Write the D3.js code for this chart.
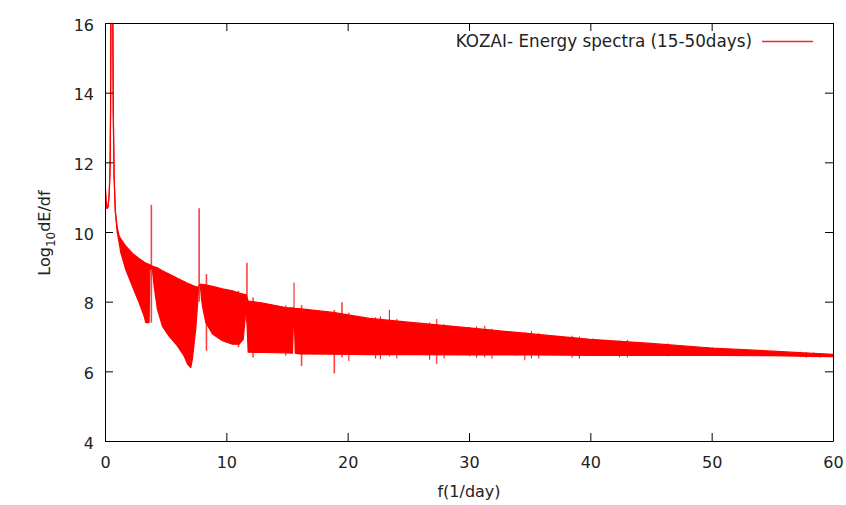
<!DOCTYPE html>
<html>
<head>
<meta charset="utf-8">
<script src="https://cdn.jsdelivr.net/npm/d3@7"></script>
<style>
  body { margin: 0; background: #fff; }
  text { font-family: "DejaVu Sans", sans-serif; fill: #222; }
</style>
</head>
<body>
<svg id="chart" width="846" height="505"></svg>
<script>
// spectrum envelope (f in 1/day, log10 dE/df)
var freq = [0, 0.08, 0.15, 0.25, 0.35, 0.42, 0.46, 0.49, 0.64, 0.68, 0.75, 0.85,
    1.0, 1.16, 1.3, 1.7, 2.25, 2.8, 3.22, 3.36, 3.63, 3.70, 3.88, 4.05, 4.32,
    4.73, 5.28, 5.97, 6.52, 6.8, 7.07, 7.2, 7.48, 7.62, 7.70, 7.85, 7.95, 8.03,
    8.31, 8.86, 9.68, 10.5, 11.06, 11.39, 11.55, 11.62, 11.8, 13, 14.9, 15.45,
    15.52, 15.62, 15.68, 16, 18.8, 21.8, 25, 30, 35, 40, 45, 50, 55, 58, 60];

var upper = [11.5, 10.9, 10.68, 10.72, 11.1, 11.9, 13.5, 16.5, 16.5, 13.5, 11.6, 10.6,
    10.15, 9.89, 9.8, 9.6, 9.39, 9.24, 9.14, 9.11, 9.07, 9.06, 9.02, 9.0, 8.97,
    8.89, 8.79, 8.67, 8.58, 8.53, 8.49, 8.47, 8.43, 8.42, 8.42, 8.50, 8.50, 8.50,
    8.48, 8.44, 8.37, 8.31, 8.25, 8.22, 8.21, 8.20, 8.02, 7.96, 7.83, 7.82,
    7.82, 7.81, 7.80, 7.80, 7.69, 7.52, 7.41, 7.25, 7.08, 6.92, 6.80, 6.67, 6.58, 6.52, 6.49];

var lower = [11.5, 10.9, 10.68, 10.72, 11.1, 11.9, 13.5, 16.5, 16.5, 13.5, 11.6, 10.6,
    10.0, 9.7, 9.41, 8.93, 8.45, 7.98, 7.59, 7.40, 7.40, 8.9, 9.02, 8.44, 7.78,
    7.30, 7.01, 6.73, 6.44, 6.21, 6.11, 6.35, 7.21, 7.88, 8.42, 8.50, 8.1, 7.88,
    7.40, 7.07, 6.88, 6.78, 6.78, 6.92, 7.5, 8.1, 6.55, 6.54, 6.53, 6.52,
    7.25, 7.3, 6.52, 6.5, 6.49, 6.48, 6.48, 6.47, 6.47, 6.46, 6.46, 6.46, 6.45, 6.43, 6.42];

// narrow peaks sticking out of the band
var spikeF  = [3.82, 7.76, 8.36, 11.0, 11.7, 12.2, 14.9, 15.58, 16.2, 18.9, 19.53, 20.1,
    22.3, 22.7, 23.44, 24.05, 26.75, 27.34, 27.95, 30.05, 30.62, 31.3, 31.9, 33.9,
    34.6, 35.15, 35.75, 38.5, 39.1, 40.2, 42.4, 43.05, 46.4, 50.1, 54.1, 57.3, 57.8, 58.4, 58.9];
var spikeHi = [10.78, 10.68, 8.79, 8.31, 9.12, 8.12, 7.90, 8.55, 7.9, 7.76, 7.98, 7.69,
    7.55, 7.58, 7.77, 7.50, 7.40, 7.50, 7.35, 7.27, 7.29, 7.31, 7.22, 7.13,
    7.13, 7.16, 7.09, 7.02, 7.00, 6.94, 6.88, 6.90, 6.80, 6.69, 6.59, 6.56, 6.55, 6.54, 6.52];
var spikeLo = [7.40, 8.0, 6.59, 6.69, 7.4, 6.40, 6.45, 7.3, 6.15, 5.94, 6.40, 6.30,
    6.37, 6.35, 6.43, 6.37, 6.33, 6.21, 6.37, 6.43, 6.39, 6.40, 6.36, 6.45,
    6.32, 6.37, 6.37, 6.39, 6.37, 6.44, 6.40, 6.40, 6.43, 6.45, 6.45, 6.41, 6.40, 6.41, 6.40];

var xTicks = [0, 10, 20, 30, 40, 50, 60];
var yTicks = [4, 6, 8, 10, 12, 14, 16];
var seriesName = "KOZAI- Energy spectra (15-50days)";

var svg = d3.select('#chart');

var x = d3.scaleLinear().domain([0, 60]).range([105, 833]);
var y = d3.scaleLinear().domain([4, 16]).range([441, 23]);

var points = freq.map(function (f, i) {
    return { f: f, hi: upper[i], lo: lower[i] };
});

svg.append('defs').append('clipPath')
    .attr('id', 'plotclip')
    .append('rect')
    .attr('x', 105).attr('y', 23)
    .attr('width', 729).attr('height', 419);

var plot = svg.append('g').attr('clip-path', 'url(#plotclip)');

// the fast oscillation fills the band between both envelopes
plot.append('path')
    .datum(points)
    .attr('fill', '#ff0000')
    .attr('d', d3.area()
        .x(function (d) { return x(d.f); })
        .y0(function (d) { return y(d.lo); })
        .y1(function (d) { return y(d.hi); }));

['hi', 'lo'].forEach(function (key) {
    plot.append('path')
        .datum(points)
        .attr('fill', 'none')
        .attr('stroke', '#ff0000')
        .attr('stroke-width', 1.2)
        .attr('stroke-linejoin', 'round')
        .attr('d', d3.line()
            .x(function (d) { return x(d.f); })
            .y(function (d) { return y(d[key]); }));
});

plot.selectAll('.spike')
    .data(spikeF)
    .enter()
    .append('line')
    .attr('class', 'spike')
    .attr('x1', function (f) { return x(f); })
    .attr('x2', function (f) { return x(f); })
    .attr('y1', function (f, i) { return y(spikeHi[i]); })
    .attr('y2', function (f, i) { return y(spikeLo[i]); })
    .attr('stroke', '#ff0000')
    .attr('stroke-width', function (f, i) { return spikeHi[i] - spikeLo[i] > 1.5 ? 1.6 : 1.1; })
    .attr('stroke-opacity', function (f, i) { return spikeHi[i] - spikeLo[i] > 1.5 ? 0.75 : 0.9; });

// axes, gnuplot style: inward ticks mirrored on all sides
function styleAxis(g) {
    g.attr('font-family', null).attr('font-size', null);
    g.selectAll('path, line').attr('stroke', '#000');
    g.selectAll('text').style('font-size', '16px').attr('fill', '#222');
}

svg.append('g')
    .attr('transform', 'translate(0,441)')
    .call(d3.axisBottom(x).tickValues(xTicks).tickSizeInner(-8).tickSizeOuter(0).tickPadding(16))
    .call(styleAxis);

svg.append('g')
    .attr('transform', 'translate(0,23)')
    .call(d3.axisTop(x).tickValues(xTicks).tickSizeInner(-8).tickSizeOuter(0).tickFormat(''))
    .call(styleAxis);

svg.append('g')
    .attr('transform', 'translate(105,0)')
    .call(d3.axisLeft(y).tickValues(yTicks).tickSizeInner(-8).tickSizeOuter(0).tickPadding(11))
    .call(styleAxis)
    .selectAll('text').attr('dy', '0.45em');

svg.append('g')
    .attr('transform', 'translate(833,0)')
    .call(d3.axisRight(y).tickValues(yTicks).tickSizeInner(-8).tickSizeOuter(0).tickFormat(''))
    .call(styleAxis);

// axis titles
svg.append('text')
    .attr('x', 469)
    .attr('y', 497)
    .attr('text-anchor', 'middle')
    .style('font-size', '16px')
    .text('f(1/day)');

var ylab = svg.append('text')
    .attr('transform', 'translate(50,233) rotate(-90)')
    .attr('text-anchor', 'middle')
    .style('font-size', '16px');
ylab.append('tspan').text('Log');
ylab.append('tspan').attr('dy', 5).style('font-size', '12px').text('10');
ylab.append('tspan').attr('dy', -5).text('dE/df');

// key
svg.append('text')
    .attr('x', 752)
    .attr('y', 47)
    .attr('text-anchor', 'end')
    .style('font-size', '16.8px')
    .text(seriesName);

svg.append('line')
    .attr('x1', 762).attr('x2', 813)
    .attr('y1', 41.5).attr('y2', 41.5)
    .style('stroke', '#ff2020')
    .style('stroke-width', '1.5px');

// stray glyph cut off at the left edge of the source image
svg.append('text')
    .attr('x', -7)
    .attr('y', 461)
    .style('font-size', '16px')
    .text(')');
</script>
</body>
</html>
